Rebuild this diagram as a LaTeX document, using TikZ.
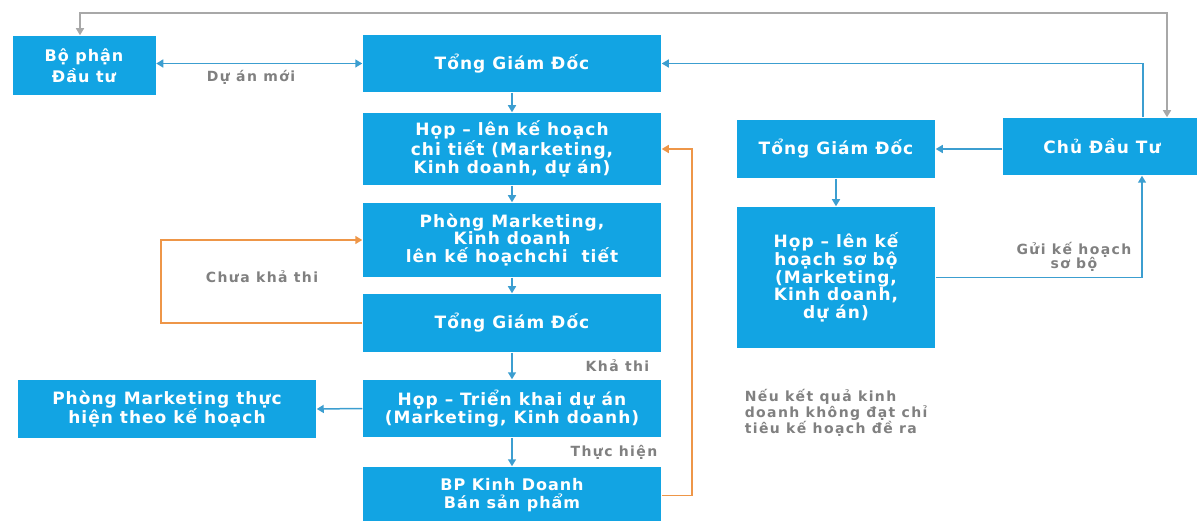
\documentclass[tikz,border=0pt]{standalone}
\usepackage{fontspec}
\setmainfont{DejaVu Sans}
\newfontfamily\boxfont[LetterSpace=6]{DejaVu Sans}
\newfontfamily\labelfont[LetterSpace=10]{DejaVu Sans}
\usepackage{tikz}
\usetikzlibrary{arrows.meta}

\definecolor{boxblue}{RGB}{18,164,227}
\definecolor{lineblue}{RGB}{60,158,208}
\definecolor{lineorange}{RGB}{238,150,72}
\definecolor{linegray}{RGB}{168,168,168}
\definecolor{textgray}{RGB}{128,128,128}

\begin{document}
\begin{tikzpicture}[x=1pt, y=-1pt, line width=1.5pt,
    >={Triangle[length=7pt, width=8pt]},
    box/.style={fill=boxblue, text=white, inner sep=0pt, align=center,
        font=\boxfont\bfseries\fontsize{17}{17.8}\selectfont},
    smallbox/.style={box, font=\boxfont\bfseries\fontsize{16}{18}\selectfont},
    lbl/.style={text=textgray, inner sep=0pt, align=center,
        font=\labelfont\bfseries\fontsize{14}{14.5}\selectfont},
    blueline/.style={draw=lineblue},
    orangeline/.style={draw=lineorange},
    grayline/.style={draw=linegray}]

\useasboundingbox (0, 0) rectangle (1197, 521);

% draw boxes of the middle column
\node[box, minimum width=298pt, minimum height=57pt] (tgdA) at (512, 63.5) {Tổng Giám Đốc};
\node[box, minimum width=298pt, minimum height=72pt] (hopA) at (512, 149) {Họp – lên kế hoạch\\chi tiết (Marketing,\\Kinh doanh, dự án)};
\node[box, minimum width=298pt, minimum height=74pt] (phongmk) at (512, 240) {Phòng Marketing,\\Kinh doanh\\lên kế hoạchchi\ \ tiết};
\node[box, minimum width=298pt, minimum height=58pt] (tgdB) at (512, 323) {Tổng Giám Đốc};
\node[box, minimum width=298pt, minimum height=57pt] (trienkhai) at (512, 408.5) {Họp – Triển khai dự án\\(Marketing, Kinh doanh)};
\node[smallbox, minimum width=298pt, minimum height=57pt] (bpkd) at (512, 495.5) {BP Kinh Doanh\\Bán sản phẩm};

% draw boxes on the left
\node[smallbox, minimum width=143pt, minimum height=59pt] (bophan) at (84, 65.5) {Bộ phận\\[3pt]Đầu tư};
\node[box, minimum width=298pt, minimum height=58pt] (thuchien) at (167, 409) {Phòng Marketing thực\\hiện theo kế hoạch};

% draw boxes on the right
\node[box, minimum width=198pt, minimum height=58pt] (tgdC) at (836, 149) {Tổng Giám Đốc};
\node[box, minimum width=198pt, minimum height=57pt] (chudautu) at (1102, 146.5) {Chủ Đầu Tư};
\node[box, minimum width=198pt, minimum height=141pt] (hopsobo) at (836, 277.5) {Họp – lên kế\\hoạch sơ bộ\\(Marketing,\\Kinh doanh,\\dự án)};

% draw gray line on top
\coordinate (topR) at (1167, 13);
\draw[grayline, <->] ([xshift=-4pt]bophan.north) |- (topR) -- (topR |- chudautu.north);

% draw blue connectors
\draw[blueline, <->] (bophan.east |- tgdA) -- (tgdA.west) node[pos=0.46, below=6pt, lbl] {Dự án mới};
\draw[blueline, ->] ([xshift=41pt]chudautu.north) |- (tgdA.east);
\draw[blueline, ->] (chudautu.west |- tgdC) -- (tgdC.east);
\draw[blueline, ->] (tgdC.south) -- (hopsobo.north);
\draw[blueline, ->] (hopsobo.east) -| ([xshift=40pt]chudautu.south)
    node[pos=0.335, above=5pt, lbl] {Gửi kế hoạch\\sơ bộ};

\foreach \a/\b in {tgdA/hopA, hopA/phongmk, phongmk/tgdB}
    \draw[blueline, ->] (\a.south) -- (\b.north);
\draw[blueline, ->] (tgdB.south) -- (trienkhai.north) node[midway, lbl, anchor=east, xshift=138pt] {Khả thi};
\draw[blueline, ->] (trienkhai.south) -- (bpkd.north) node[midway, lbl, anchor=east, xshift=146pt] {Thực hiện};
\draw[blueline, ->] (trienkhai.west) -- (thuchien.east);

% draw orange loops
\coordinate (orR) at (692, 0);
\coordinate (orL) at (161, 0);
\draw[orangeline, ->] (bpkd.east) -- (bpkd.east -| orR) |- (hopA.east);
\draw[orangeline, ->] (tgdB.west) -- (tgdB.west -| orL) |- (phongmk.west);

% draw labels
\node[lbl] (chuakhathi) at (262, 277) {Chưa khả thi};
\node[lbl, align=left, anchor=north west] (neuketqua) at (744, 389) {Nếu kết quả kinh\\doanh không đạt chỉ\\tiêu kế hoạch đề ra};

\end{tikzpicture}
\end{document}
